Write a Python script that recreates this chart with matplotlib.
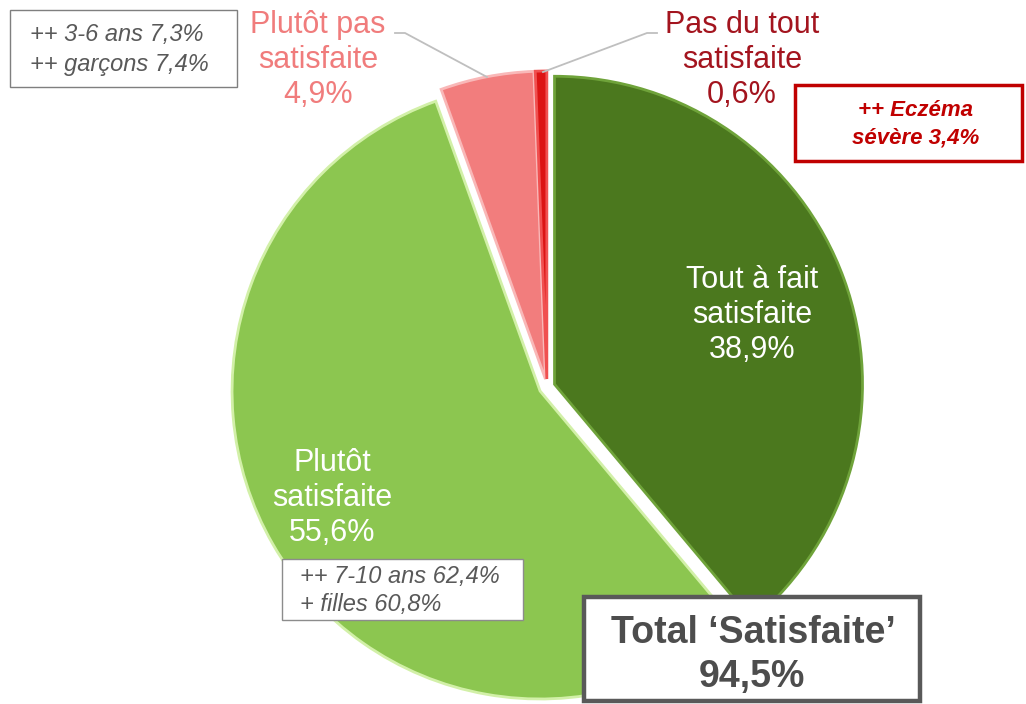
import matplotlib
matplotlib.use("Agg")
import matplotlib.pyplot as plt
from matplotlib.patches import Rectangle

# ---- data ----
categories = ["Tout à fait\nsatisfaite", "Plutôt\nsatisfaite",
              "Plutôt pas\nsatisfaite", "Pas du tout\nsatisfaite"]
values = [38.9, 55.6, 4.9, 0.6]
total_label = "Total ‘Satisfaite’"
total_value = 94.5
note_topleft = ["++ 3-6 ans 7,3%", "++ garçons 7,4%"]
note_bottom = ["++ 7-10 ans 62,4%", "+ filles 60,8%"]
note_red = ["++ Eczéma", "sévère 3,4%"]

colors = ["#4B781E", "#8CC650", "#F27D7D", "#DC1414"]
edge_colors = ["#6FA33A", "#D2F0A8", "#F9B8B8", "#F05050"]
label_colors = ["white", "white", "#F07C7C", "#A3141E"]

W, H = 1026, 704
plt.rcParams['font.family'] = ['Liberation Sans', 'DejaVu Sans']

fig = plt.figure(figsize=(W / 100, H / 100), dpi=100)
ax = fig.add_axes([0, 0, 1, 1])


def Y(y):
    return H - y


def fmt(v):
    return f"{v:.1f}%".replace(".", ",")


wedges, _ = ax.pie(values, colors=colors, startangle=90, counterclock=False,
                   center=(547, Y(387)), radius=308, frame=True,
                   explode=[8] * 4,
                   wedgeprops=dict(linewidth=2.0))
for w, ec in zip(wedges, edge_colors):
    w.set_edgecolor(ec)

# labels
label_pos = [(752, 315), (332, 498), (318, 60), (742, 60)]
for cat, v, (x, y), c in zip(categories, values, label_pos, label_colors):
    ax.text(x, Y(y), f"{cat}\n{fmt(v)}", ha="center", va="center",
            fontsize=22, color=c, linespacing=1.2)

# leader lines
ax.plot([395, 405, 487], [Y(33), Y(33), Y(77)], color="#BFBFBF", lw=1.3)
ax.plot([657, 647, 543], [Y(33), Y(33), Y(72)], color="#BFBFBF", lw=1.3)

# top-left note box
ax.add_patch(Rectangle((10, Y(87)), 227, 77, fill=True, facecolor="white",
                       edgecolor="#7F7F7F", lw=1.0))
for i, t in enumerate(note_topleft):
    ax.text(30, Y(34 + 30 * i), t, ha="left", va="center", fontsize=17,
            style="italic", color="#595959")

# red note box
ax.add_patch(Rectangle((795, Y(161)), 227, 76, fill=True, facecolor="white",
                       edgecolor="#C00000", lw=2.5))
for i, t in enumerate(note_red):
    ax.text(916, Y(111 + 27 * i), t, ha="center", va="center", fontsize=16,
            style="italic", weight="bold", color="#C00000")

# bottom note box
ax.add_patch(Rectangle((282, Y(620)), 241, 61, fill=True, facecolor="white",
                       edgecolor="#8C8C8C", lw=1.0))
for i, t in enumerate(note_bottom):
    ax.text(300, Y(577 + 27 * i), t, ha="left", va="center", fontsize=17,
            style="italic", color="#595959")

# total box
ax.add_patch(Rectangle((584, Y(701)), 336, 104, fill=True, facecolor="white",
                       edgecolor="#595959", lw=3.2))
ax.text(753, Y(633), total_label, ha="center", va="center", fontsize=27,
        weight="bold", color="#4D4D4D")
ax.text(752, Y(677), fmt(total_value), ha="center", va="center", fontsize=27,
        weight="bold", color="#4D4D4D")

ax.set_xlim(0, W)
ax.set_ylim(0, H)
ax.set_aspect("equal")
ax.axis("off")

fig.savefig("out.png", dpi=100)
